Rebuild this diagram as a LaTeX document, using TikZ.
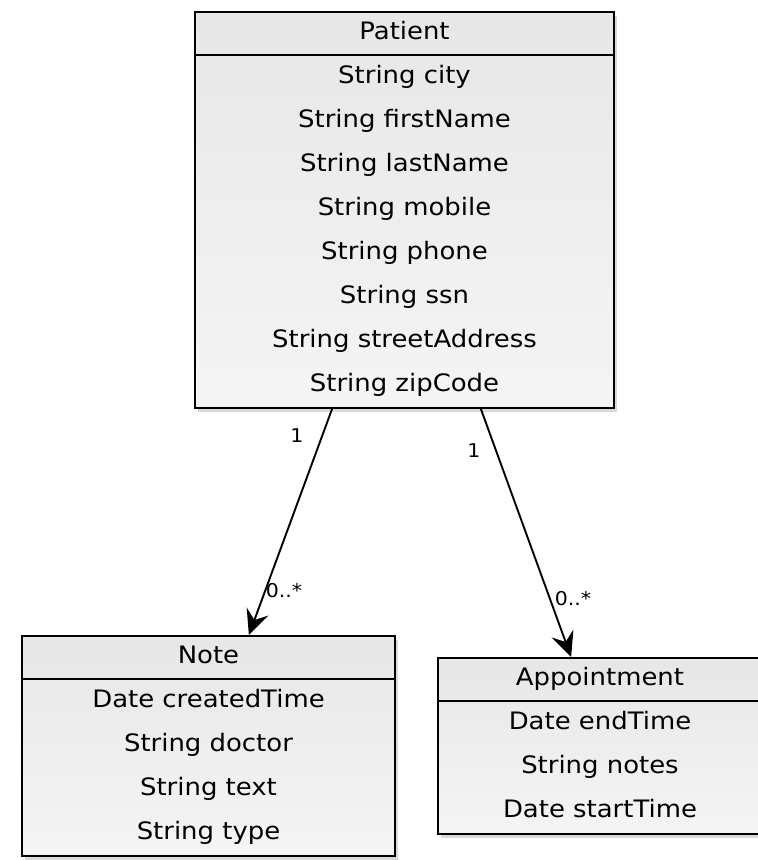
\documentclass[tikz,border=0pt]{standalone}
\usepackage{fontspec}
\setmainfont[FakeStretch=1.08]{DejaVu Sans}
\usetikzlibrary{arrows.meta,shadows}

\tikzset{
  classbox/.style={draw, line width=1.9pt, top color=gray!19, bottom color=gray!8,
    drop shadow={opacity=0.3, shadow xshift=3pt, shadow yshift=-4pt}},
  attr/.style={anchor=base, inner sep=0pt, font=\fontsize{24}{28}\selectfont},
  mult/.style={inner sep=0pt, font=\fontsize{19}{21}\selectfont},
}

\begin{document}
\begin{tikzpicture}[x=1pt, y=1pt, >={Stealth[length=25pt, width=23pt, inset=9pt]}]
  \useasboundingbox (0,0) rectangle (758,-860);
  % class boxes
  \node[classbox, minimum width=419pt, minimum height=396pt] (patient) at (404.5,-210) {};
  \node[classbox, minimum width=373pt, minimum height=220pt] (note) at (208.5,-746) {};
  \node[classbox, minimum width=324pt, minimum height=176pt] (appt) at (600,-746) {};
  \draw[line width=1.9pt] ([yshift=-44pt]patient.north west) -- ([yshift=-44pt]patient.north east);
  \draw[line width=1.9pt] ([yshift=-44pt]note.north west) -- ([yshift=-44pt]note.north east);
  \draw[line width=1.9pt] ([yshift=-44pt]appt.north west) -- ([yshift=-44pt]appt.north east);
  % Patient
  \node[attr] (ptitle) at (404.5,-39) {Patient};
  \node[attr] (pcity) at (404.5,-83) {String city};
  \node[attr] (pfirst) at (404.5,-127) {String firstName};
  \node[attr] (plast) at (404.5,-171) {String lastName};
  \node[attr] (pmobile) at (404.5,-215) {String mobile};
  \node[attr] (pphone) at (404.5,-259) {String phone};
  \node[attr] (pssn) at (404.5,-303) {String ssn};
  \node[attr] (pstreet) at (404.5,-347) {String streetAddress};
  \node[attr] (pzip) at (404.5,-391) {String zipCode};
  % Note
  \node[attr] (ntitle) at (208.5,-663) {Note};
  \node[attr] (ncreated) at (208.5,-707) {Date createdTime};
  \node[attr] (ndoctor) at (208.5,-751) {String doctor};
  \node[attr] (ntext) at (208.5,-795) {String text};
  \node[attr] (ntype) at (208.5,-839) {String type};
  % Appointment
  \node[attr] (atitle) at (600,-685) {Appointment};
  \node[attr] (aend) at (600,-729) {Date endTime};
  \node[attr] (anotes) at (600,-773) {String notes};
  \node[attr] (astart) at (600,-817) {Date startTime};
  % associations
  \draw[->, line width=1.9pt, fill=black!80] (patient.-110.6) -- (note.70.2);
  \draw[->, line width=1.9pt, fill=black!80] (patient.-69.9) -- (appt.108.8);
  \node[mult] (m1) at (297,-436) {1};
  \node[mult] (m2) at (284,-591) {0..*};
  \node[mult] (m3) at (474,-451) {1};
  \node[mult] (m4) at (573,-599) {0..*};
\end{tikzpicture}
\end{document}
